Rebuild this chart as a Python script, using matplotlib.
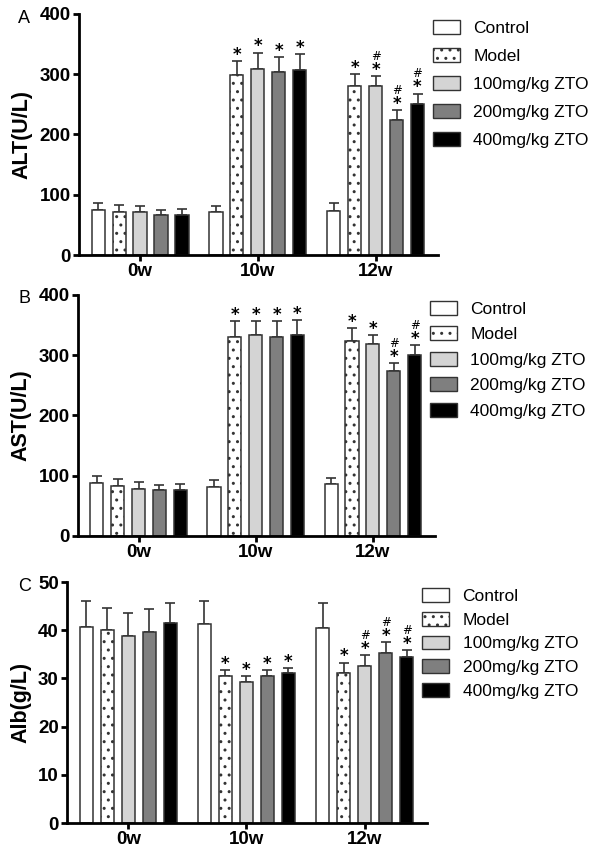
import numpy as np
import matplotlib
matplotlib.use("Agg")
import matplotlib.pyplot as plt
from matplotlib.patches import Patch

plt.rcParams['font.family'] = ['Liberation Sans', 'DejaVu Sans']
plt.rcParams['hatch.linewidth'] = 1.0
plt.rcParams['hatch.color'] = '#555555'

groups = ['0w', '10w', '12w']
series = ['Control', 'Model', '100mg/kg ZTO', '200mg/kg ZTO', '400mg/kg ZTO']
colors = ['white', 'white', '#d4d4d4', '#7f7f7f', 'black']
hatches = [None, '..', None, None, None]

# ALT (U/L): mean per group for each series, and SD
alt_mean = [[75, 71, 73], [72, 299, 281], [71, 309, 280], [66, 303, 224], [66, 307, 251]]
alt_sd = [[12, 11, 13], [11, 23, 19], [11, 27, 17], [9, 25, 16], [11, 27, 17]]
alt_marks = [['', '', ''], ['', '*', '*'], ['', '*', '#*'], ['', '*', '#*'], ['', '*', '#*']]

# AST (U/L)
ast_mean = [[88, 82, 86], [83, 330, 323], [78, 333, 319], [76, 330, 274], [76, 334, 300]]
ast_sd = [[11, 11, 10], [11, 27, 22], [11, 24, 15], [9, 26, 13], [11, 24, 17]]
ast_marks = [['', '', ''], ['', '*', '*'], ['', '*', '*'], ['', '*', '#*'], ['', '*', '#*']]

# Alb (g/L)
alb_mean = [[40.7, 41.2, 40.5], [40.0, 30.6, 31.2], [38.8, 29.3, 32.6], [39.6, 30.5, 35.3], [41.4, 31.2, 34.4]]
alb_sd = [[5.3, 4.8, 5.1], [4.7, 1.2, 2.1], [4.8, 1.2, 2.2], [4.9, 1.3, 2.3], [4.3, 0.9, 1.4]]
alb_marks = [['', '', ''], ['', '*', '*'], ['', '*', '#*'], ['', '*', '#*'], ['', '*', '#*']]

panels = [
    ('A', 'ALT(U/L)', alt_mean, alt_sd, alt_marks, 400, 100, [0.132, 0.7007, 0.598, 0.2829], 0.978, 0.70),
    ('B', 'AST(U/L)', ast_mean, ast_sd, ast_marks, 400, 100, [0.130, 0.3709, 0.595, 0.2829], 0.650, 0.55),
    ('C', 'Alb(g/L)', alb_mean, alb_sd, alb_marks, 50, 10, [0.112, 0.034, 0.600, 0.2829], 0.312, 0.45),
]

fig = plt.figure(figsize=(6, 8.52), dpi=100)
x = np.arange(len(groups))
step = 0.178
width = 0.112

for letter, ylabel, means, sds, marks, ymax, ystep, rect, letter_y, lspace in panels:
    ax = fig.add_axes(rect)
    for i, name in enumerate(series):
        pos = x + (i - 2) * step
        ax.bar(pos, means[i], width, color=colors[i], edgecolor='#333333',
               linewidth=1.1, hatch=hatches[i], label=name, zorder=2)
        ax.errorbar(pos, means[i], yerr=[np.zeros(3), sds[i]], fmt='none',
                    ecolor='#333333', elinewidth=1.2, capsize=3.5, capthick=1.2, zorder=1)
        for j in range(3):
            top = (pos[j], means[i][j] + sds[i][j])
            if '*' in marks[i][j]:
                ax.annotate('*', top, xytext=(0, -2), textcoords='offset points',
                            ha='center', va='bottom', fontsize=12, fontweight='bold',
                            family='DejaVu Sans')
            if '#' in marks[i][j]:
                ax.annotate('#', top, xytext=(0, 9.5), textcoords='offset points',
                            ha='center', va='bottom', fontsize=8.5, family='DejaVu Sans')
    ax.set_xlim(-0.517, 2.53)
    ax.set_ylim(0, ymax)
    ax.set_yticks(np.arange(0, ymax + 1, ystep))
    ax.set_xticks(x)
    ax.set_xticklabels(groups)
    for s in ['top', 'right']:
        ax.spines[s].set_visible(False)
    for s in ['left', 'bottom']:
        ax.spines[s].set_linewidth(2)
    ax.tick_params(width=2, length=4.5, labelsize=13.5, pad=1.5)
    for lab in ax.get_xticklabels() + ax.get_yticklabels():
        lab.set_fontweight('bold')
    ax.set_ylabel(ylabel, fontsize=15.5, fontweight='bold', labelpad=5)
    fig.text(0.03, letter_y, letter, fontsize=13, va='center')

    handles = [Patch(facecolor=colors[i], edgecolor='#333333', hatch=hatches[i],
                     linewidth=1.0) for i in range(5)]
    ax.legend(handles, series, loc='upper left', bbox_to_anchor=(0.985, 0.975),
              frameon=False, fontsize=12.5, handlelength=1.55, handleheight=0.85,
              labelspacing=lspace, handletextpad=0.8, borderaxespad=0, borderpad=0)

fig.savefig('out.png', dpi=100)
